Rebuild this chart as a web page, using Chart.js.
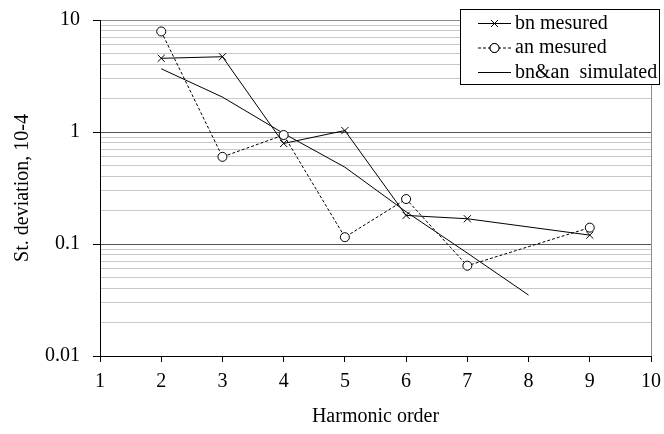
<!DOCTYPE html>
<html>
<head>
<meta charset="utf-8">
<title>Harmonic order</title>
<script src="https://cdn.jsdelivr.net/npm/chart.js@4.4.1/dist/chart.umd.min.js"></script>
<style>
  html, body { margin: 0; padding: 0; background: #fff; }
  #wrap { width: 664px; height: 434px; }
</style>
</head>
<body>
<div id="wrap"><canvas id="harmonics" width="664" height="434"></canvas></div>
<script>
// harmonic orders and st. deviations (units of 1e-4)
const bnOrders = [2, 3, 4, 5, 6, 7, 9];
const bnMeasured = [4.55, 4.7, 0.79, 1.03, 0.18, 0.168, 0.12];
const anOrders = [2, 3, 4, 5, 6, 7, 9];
const anMeasured = [7.9, 0.6, 0.94, 0.115, 0.252, 0.064, 0.14];
const simOrders = [2, 3, 4, 5, 6, 7, 8];
const simulated = [3.67, 2.05, 0.97, 0.485, 0.194, 0.083, 0.035];

const seriesNames = ['bn mesured', 'an mesured', 'bn&an  simulated'];
const xTicks = [1, 2, 3, 4, 5, 6, 7, 8, 9, 10];
const yTickValues = [0.01, 0.1, 1, 10];
const yTickLabels = ['0.01', '0.1', '1', '10'];

const FONT = '"Liberation Serif", "Times New Roman", serif';

function points(xs, ys) {
    return xs.map(function(x, i) { return { x: x, y: ys[i] }; });
}

function isMajor(v) {
    return yTickValues.some(function(m) { return Math.abs(v - m) < m * 1e-6; });
}

// legend box drawn over the top right corner
const boxLegend = {
    id: 'boxLegend',
    afterDraw: function(chart) {
        const ctx = chart.ctx;
        const x0 = 460.5, y0 = 9.5, w = 199, h = 75;
        ctx.save();
        ctx.fillStyle = '#fff';
        ctx.fillRect(x0, y0, w, h);
        ctx.strokeStyle = '#000';
        ctx.lineWidth = 1;
        ctx.strokeRect(x0, y0, w, h);
        ctx.font = '20px ' + FONT;
        ctx.textBaseline = 'middle';
        ctx.fillStyle = '#000';
        chart.data.datasets.forEach(function(ds, i) {
            const cy = 23.5 + i * 24.5;
            ctx.beginPath();
            ctx.setLineDash(ds.borderDash || []);
            ctx.moveTo(478, cy);
            ctx.lineTo(511, cy);
            ctx.stroke();
            ctx.setLineDash([]);
            if (ds.pointRadius > 0) {
                Chart.helpers.drawPoint(ctx, {
                    pointStyle: ds.pointStyle,
                    radius: ds.pointRadius,
                    borderWidth: 1,
                    rotation: 0
                }, 494.5, cy);
                if (ds.pointStyle === 'circle') {
                    ctx.fillStyle = '#fff';
                    ctx.beginPath();
                    ctx.arc(494.5, cy, ds.pointRadius, 0, Math.PI * 2);
                    ctx.fill();
                    ctx.stroke();
                    ctx.fillStyle = '#000';
                }
            }
            ctx.fillText(ds.label, 515, cy);
        });
        ctx.restore();
    }
};

new Chart(document.getElementById('harmonics').getContext('2d'), {
    type: 'line',
    data: {
        datasets: [{
            label: seriesNames[0],
            data: points(bnOrders, bnMeasured),
            borderColor: '#000',
            borderWidth: 1,
            pointStyle: 'crossRot',
            pointRadius: 5,
            pointBorderColor: '#000',
            pointBorderWidth: 1,
            tension: 0
        }, {
            label: seriesNames[1],
            data: points(anOrders, anMeasured),
            borderColor: '#000',
            borderWidth: 1,
            borderDash: [3, 2],
            pointStyle: 'circle',
            pointRadius: 4.5,
            pointBackgroundColor: '#fff',
            pointBorderColor: '#000',
            pointBorderWidth: 1,
            tension: 0
        }, {
            label: seriesNames[2],
            data: points(simOrders, simulated),
            borderColor: '#000',
            borderWidth: 1,
            pointRadius: 0,
            tension: 0
        }]
    },
    options: {
        responsive: false,
        animation: false,
        devicePixelRatio: 1,
        layout: { padding: { top: 20, right: 13, left: 0, bottom: 0 } },
        plugins: {
            legend: { display: false },
            tooltip: { enabled: false }
        },
        scales: {
            x: {
                type: 'linear',
                min: 1,
                max: 10,
                afterBuildTicks: function(scale) {
                    scale.ticks = xTicks.map(function(v) { return { value: v }; });
                },
                afterFit: function(scale) {
                    scale.height = 78;
                    // let the end labels overhang instead of shrinking the plot
                    scale.paddingLeft = 0;
                    scale.paddingRight = 0;
                },
                border: { color: '#000', width: 1 },
                grid: {
                    drawOnChartArea: true,
                    color: function(c) { return c.tick && c.tick.value === 10 ? '#8c8c8c' : 'rgba(0,0,0,0)'; },
                    tickColor: '#000',
                    tickLength: 6
                },
                ticks: {
                    color: '#000',
                    padding: 8,
                    maxRotation: 0,
                    autoSkip: false,
                    font: { family: FONT, size: 20 }
                },
                title: {
                    display: true,
                    text: 'Harmonic order',
                    color: '#000',
                    padding: { top: 0, bottom: 5 },
                    font: { family: FONT, size: 20 }
                }
            },
            y: {
                type: 'logarithmic',
                min: 0.01,
                max: 10,
                afterBuildTicks: function(scale) {
                    const t = [];
                    for (let e = -2; e < 1; e++) {
                        for (let k = 1; k <= 9; k++) t.push({ value: k * Math.pow(10, e) });
                    }
                    t.push({ value: 10 });
                    scale.ticks = t;
                },
                afterFit: function(scale) {
                    scale.width = 100;
                    scale.paddingTop = 0;
                    scale.paddingBottom = 0;
                },
                border: { color: '#000', width: 1 },
                grid: {
                    color: function(c) {
                        const v = c.tick ? c.tick.value : 0;
                        if (Math.abs(v - 10) < 1e-6) return '#8c8c8c';
                        return isMajor(v) ? '#555' : '#c8c8c8';
                    },
                    tickColor: function(c) {
                        return c.tick && isMajor(c.tick.value) ? '#000' : 'rgba(0,0,0,0)';
                    },
                    tickLength: 7
                },
                ticks: {
                    color: '#000',
                    padding: 13,
                    autoSkip: false,
                    font: { family: FONT, size: 20 },
                    callback: function(v) {
                        const i = yTickValues.findIndex(function(m) { return Math.abs(v - m) < m * 1e-6; });
                        return i >= 0 ? yTickLabels[i] : '';
                    }
                },
                title: {
                    display: true,
                    text: 'St. deviation, 10-4',
                    color: '#000',
                    padding: { top: 11, bottom: 0 },
                    font: { family: FONT, size: 20 }
                }
            }
        }
    },
    plugins: [boxLegend]
});
</script>
</body>
</html>
